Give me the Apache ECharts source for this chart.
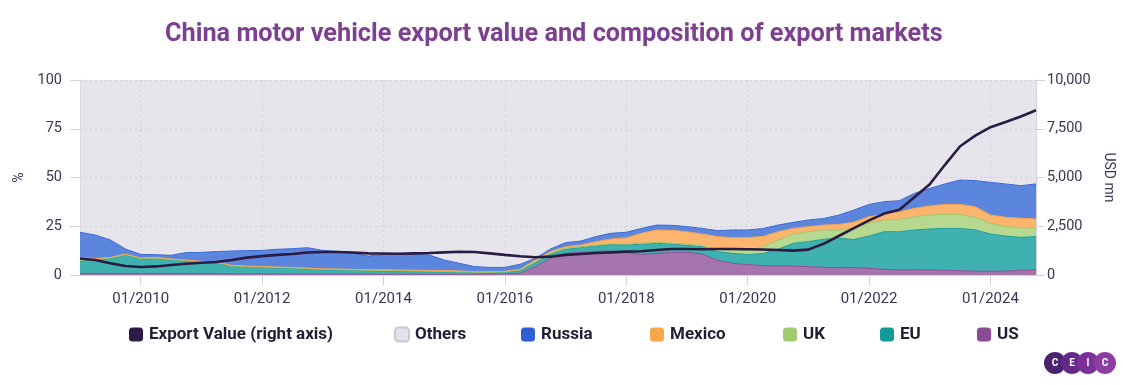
<!DOCTYPE html>
<html><head><meta charset="utf-8">
<script src="https://cdn.jsdelivr.net/npm/echarts@6/dist/echarts.min.js"></script>
<style>html,body{margin:0;padding:0;background:#fff}#c{width:1128px;height:385px}</style>
</head><body><div id="c"></div>
<script>
// quarterly observation months
const dates = [
 '2009-01','2009-04','2009-07','2009-10',
 '2010-01','2010-04','2010-07','2010-10',
 '2011-01','2011-04','2011-07','2011-10',
 '2012-01','2012-04','2012-07','2012-10',
 '2013-01','2013-04','2013-07','2013-10',
 '2014-01','2014-04','2014-07','2014-10',
 '2015-01','2015-04','2015-07','2015-10',
 '2016-01','2016-04','2016-07','2016-10',
 '2017-01','2017-04','2017-07','2017-10',
 '2018-01','2018-04','2018-07','2018-10',
 '2019-01','2019-04','2019-07','2019-10',
 '2020-01','2020-04','2020-07','2020-10',
 '2021-01','2021-04','2021-07','2021-10',
 '2022-01','2022-04','2022-07','2022-10',
 '2023-01','2023-04','2023-07','2023-10',
 '2024-01','2024-04','2024-07','2024-10'
];
// shares of export value, %
const us = [0.8,0.8,0.8,0.8,0.8, 0.8,0.7,0.7,0.7, 0.7,0.6,0.6,0.6, 0.6,0.5,0.5,0.5, 0.5,0.5,0.5,0.4, 0.4,0.4,0.4,0.4, 0.4,0.4,0.5,0.6, 0.9,4.3,8.5,11.1, 11.6,12.1,12.3,11.5, 10.5,11.1,11.5,11.6, 10.8,7.5,6.0,5.3, 4.8,4.6,4.6,4.3, 3.9,3.8,3.9,3.4, 2.9,2.6,2.6,2.6, 2.4,2.2,2.0,1.9, 2.0,2.4,2.6];
const eu = [6.4,6.9,7.7,9.5,7.4, 7.6,7.0,6.5,5.8, 5.5,3.8,3.5,3.3, 3.0,2.9,2.6,2.2, 2.1,1.9,1.7,1.7, 1.6,1.5,1.3,1.2, 1.0,0.8,0.7,0.8, 1.3,2.0,2.1,2.1, 2.4,2.8,3.3,3.9, 5.3,5.1,4.4,3.6, 3.7,4.5,5.1,5.2, 6.2,8.6,11.6,12.8, 14.4,15.0,14.3,16.6, 19.3,19.6,20.5,21.0, 21.5,21.7,21.1,19.1, 18.0,16.9,17.1];
const uk = [0.3,0.3,0.2,0.2,0.2, 0.2,0.2,0.2,0.2, 0.2,0.2,0.2,0.2, 0.2,0.2,0.2,0.2, 0.2,0.2,0.2,0.2, 0.2,0.2,0.2,0.2, 0.2,0.2,0.2,0.2, 0.3,0.5,0.6,0.5, 0.6,0.4,0.4,0.5, 0.5,0.5,0.5,0.6, 0.7,1.0,1.4,2.0, 3.5,4.7,4.8,5.1, 4.7,4.4,5.6,6.8, 6.0,6.3,6.8,7.2, 7.2,7.2,6.5,5.5, 4.8,5.0,4.2];
const mexico = [1.6,0.5,0.3,0.3,0.3, 0.5,0.3,0.3,0.3, 0.3,0.4,0.3,0.3, 0.3,0.3,0.3,0.3, 0.3,0.3,0.3,0.4, 0.4,0.4,0.5,0.5, 0.5,0.3,0.3,0.3, 0.4,0.9,0.8,0.8, 0.8,1.8,2.5,3.1, 5.1,6.4,6.5,6.4, 5.8,6.7,6.6,6.7, 5.3,4.3,2.9,2.6, 2.6,2.7,3.3,3.1, 2.9,4.0,4.3,4.6, 5.1,5.1,5.4,4.3, 4.8,4.8,4.8];
const russia = [12.8,12.0,9.0,2.5,1.9, 1.3,1.9,3.8,4.6, 5.3,7.3,7.9,8.2, 9.1,9.6,10.4,9.4, 9.0,8.2,7.0,7.8, 8.0,8.1,7.9,5.4, 3.9,2.6,2.2,2.0, 2.6,0.8,1.3,2.1, 2.0,2.6,2.9,2.9, 2.5,2.5,2.6,2.6, 2.9,3.1,4.0,3.9, 4.0,3.4,3.1,3.4, 3.4,4.8,6.2,6.3, 6.5,5.6,7.7,9.0, 10.5,12.5,13.4,16.7, 17.1,16.7,18.0];
const others = [78.1,79.5,82.0,86.7,89.4, 89.6,89.9,88.5,88.4, 88.0,87.7,87.5,87.4, 86.8,86.5,86.0,87.4, 87.9,88.9,90.3,89.5, 89.4,89.4,89.7,92.3, 94.0,95.7,96.1,96.1, 94.5,91.5,86.7,83.4, 82.6,80.3,78.6,78.1, 76.1,74.4,74.5,75.2, 76.1,77.2,76.9,76.9, 76.2,74.4,73.0,71.8, 71.0,69.9,66.7,63.8, 62.4,61.9,58.1,55.6, 53.3,51.3,51.6,52.5, 53.3,54.2,53.3];
// export value, USD mn (right axis)
const exportValue = [850,770,600,460,410, 440,510,580,630, 670,770,890,970, 1030,1080,1150,1180, 1180,1150,1110,1100, 1090,1110,1130,1160, 1190,1180,1110,1030, 960,910,940,1030, 1080,1130,1160,1200, 1220,1280,1330,1330, 1320,1330,1330,1320, 1310,1280,1250,1300, 1600,2000,2400,2800, 3150,3350,4000,4650, 5650,6600,7150,7580, 7850,8130,8450];
const xTickLabels = ['01/2010','01/2012','01/2014','01/2016','01/2018','01/2020','01/2022','01/2024'];

const fmtDate = d => { const [y,m] = d.split('-'); return m + '/' + y; };
const isTick = (i, v) => xTickLabels.indexOf(fmtDate(v)) >= 0;

const txt = '#3c3553';
const font = 'Roboto, "Noto Sans", sans-serif';
const gridLine = {color:'#aeabbd', type:[2,3], width:1};
function area(name, arr, fill, edge, icon){
  return {name, type:'line', stack:'share', data:arr, symbol:'none', showSymbol:false,
    lineStyle:{width:1, color:edge}, itemStyle:{color:icon}, areaStyle:{color:fill, opacity:1},
    emphasis:{disabled:true}, z:2};
}
const series = [
  area('US', us, '#a675ad', '#8c4c96', '#8a4a95'),
  area('EU', eu, '#40b1b1', '#1a9c9a', '#12999a'),
  area('UK', uk, '#b6d88f', '#9ec76d', '#a2c96e'),
  area('Mexico', mexico, '#fdb56e', '#f6a24a', '#f7a64a'),
  area('Russia', russia, '#5c86de', '#3b69d6', '#2b5fd3'),
  {name:'Others', type:'line', stack:'share', data:others, symbol:'none', showSymbol:false,
    lineStyle:{width:0}, itemStyle:{color:'#e3e2ea', borderColor:'#c8c7d2', borderWidth:1},
    areaStyle:{color:'#dedce6', opacity:0.75}, emphasis:{disabled:true}, z:1},
  {name:'Export Value (right axis)', type:'line', yAxisIndex:1, data:exportValue, symbol:'none', showSymbol:false,
    lineStyle:{width:2.6, color:'#2b1a42'}, itemStyle:{color:'#2e1a47'}, emphasis:{disabled:true}, z:10}
];
const legendPos = [['Export Value (right axis)',129],['Others',394],['Russia',521],['Mexico',650],['UK',783],['EU',880],['US',977]];
const legends = legendPos.map(([n,x]) => ({data:[n], left:x, top:326, padding:0, icon:'roundRect', itemWidth:14, itemHeight:14,
  itemGap:0, selectedMode:false, textStyle:{fontSize:17, fontWeight:'bold', color:'#231c35', fontFamily:font, padding:[0,0,0,1]}}));

const logoX = [1055, 1072, 1088, 1105];
const logoCol = ['#4b2371', '#66298a', '#7a3296', '#8e3ea2'];
const logoTxt = ['C','E','I','C'];
const graphic = [];
logoX.forEach((x,i)=>{
  graphic.push({type:'circle', shape:{cx:x, cy:363, r:11}, style:{fill:logoCol[i]}, z:100+i});
  graphic.push({type:'text', x:x, y:363, style:{text:logoTxt[i], fill:'#fff', font:'bold 10px '+font, align:'center', verticalAlign:'middle'}, z:110});
});

const chart = echarts.init(document.getElementById('c'), null, {renderer:'canvas'});
chart.setOption({
  animation:false,
  backgroundColor:'#fff',
  title:{text:'China motor vehicle export value and composition of export markets', left:165, top:22, padding:0,
    textStyle:{fontSize:25.3, fontWeight:'bold', color:'#7d3f8f', fontFamily:font}},
  legend: legends,
  graphic,
  grid:{left:80, right:92, top:80, bottom:110, containLabel:false},
  xAxis:{type:'category', data:dates, boundaryGap:false,
    axisLine:{show:true, lineStyle:{color:'#d3d2da'}},
    axisTick:{show:true, interval:isTick, length:10, lineStyle:{color:'#d3d2da'}},
    axisLabel:{interval:isTick, formatter:v=>fmtDate(v), color:txt, fontSize:15, margin:17, fontFamily:font},
    splitLine:{show:true, interval:isTick, lineStyle:gridLine}},
  yAxis:[
    {type:'value', min:0, max:100, interval:25, position:'left',
     name:'%', nameLocation:'middle', nameGap:50, nameTextStyle:{color:txt, fontSize:14, fontFamily:font},
     axisLine:{show:true, lineStyle:{color:'#d3d2da'}}, axisTick:{show:true, length:10, lineStyle:{color:'#d3d2da'}},
     axisLabel:{color:txt, fontSize:14.5, margin:18, fontFamily:font},
     splitLine:{show:true, lineStyle:gridLine}},
    {type:'value', min:0, max:10000, interval:2500, position:'right',
     name:'USD mn', nameLocation:'middle', nameGap:59, nameRotate:-90, nameTextStyle:{color:txt, fontSize:14, fontFamily:font},
     axisLine:{show:true, lineStyle:{color:'#d3d2da'}}, axisTick:{show:true, length:9, lineStyle:{color:'#d3d2da'}},
     axisLabel:{color:txt, fontSize:14.5, margin:11, fontFamily:font, formatter:v=>v.toLocaleString('en-US')},
     splitLine:{show:false}}
  ],
  series
});
</script></body></html>
